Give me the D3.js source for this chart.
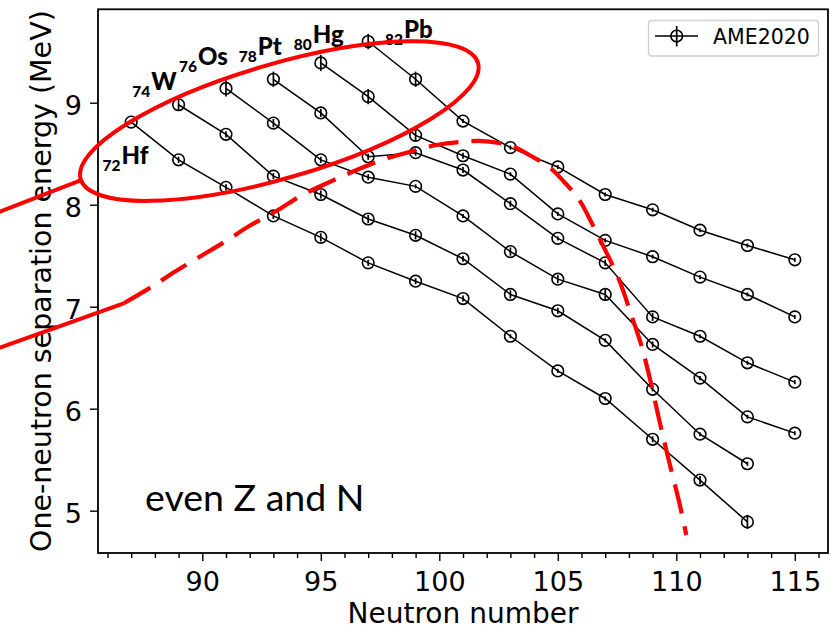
<!DOCTYPE html>
<html>
<head>
<meta charset="utf-8">
<script src="https://cdn.jsdelivr.net/npm/d3@7"></script>
<style>
body { margin: 0; background: #fff; }
svg { display: block; }
</style>
</head>
<body>
<svg id="chart"></svg>
<script>
// neutron numbers on the x axis
var neutrons = [87, 89, 91, 93, 95, 97, 99, 101, 103, 105, 107, 109, 111, 113, 115];

var elements = ["Hf", "W", "Os", "Pt", "Hg", "Pb"];
var protons = [72, 74, 76, 78, 80, 82];
var firstN = [87, 89, 91, 93, 95, 97];

// one-neutron separation energy (MeV), AME2020
var snHf = [8.81, 8.44, 8.17, 7.89, 7.68, 7.43, 7.25, 7.08, 6.71, 6.37, 6.10, 5.70, 5.30, 4.89];
var snW  = [8.98, 8.69, 8.28, 8.10, 7.86, 7.70, 7.47, 7.12, 6.96, 6.67, 6.19, 5.75, 5.46];
var snOs = [9.14, 8.80, 8.44, 8.27, 8.18, 7.89, 7.54, 7.27, 7.12, 6.63, 6.30, 5.92, 5.76];
var snPt = [9.23, 8.90, 8.47, 8.51, 8.34, 8.01, 7.67, 7.43, 6.90, 6.71, 6.45, 6.26];
var snHg = [9.39, 9.06, 8.68, 8.48, 8.30, 7.91, 7.65, 7.49, 7.29, 7.12, 6.90];
var snPb = [9.60, 9.23, 8.82, 8.56, 8.37, 8.10, 7.95, 7.75, 7.60, 7.46];

// uncertainties (MeV)
var errHf = [0.02, 0.03, 0.03, 0.03, 0.04, 0.03, 0.03, 0.03, 0.02, 0.02, 0.02, 0.03, 0.04, 0.07];
var errW  = [0.05, 0.03, 0.03, 0.04, 0.04, 0.04, 0.03, 0.04, 0.03, 0.02, 0.02, 0.02, 0.02];
var errOs = [0.08, 0.04, 0.03, 0.03, 0.02, 0.02, 0.04, 0.04, 0.06, 0.03, 0.02, 0.02, 0.02];
var errPt = [0.075, 0.04, 0.03, 0.03, 0.03, 0.03, 0.02, 0.03, 0.04, 0.02, 0.02, 0.02];
var errHg = [0.08, 0.075, 0.055, 0.03, 0.02, 0.02, 0.02, 0.02, 0.02, 0.02, 0.02];
var errPb = [0.075, 0.075, 0.02, 0.02, 0.02, 0.02, 0.02, 0.02, 0.02, 0.02];

var xTicks = [90, 95, 100, 105, 110, 115];
var yTicks = [5, 6, 7, 8, 9];

// red hand-drawn guide curve (N, MeV)
var guideN = [86.71, 87.85, 88.82, 89.87, 90.93, 91.98, 93.12, 94.22, 95.36, 96.41, 97.59, 98.73, 99.87, 100.84,
  101.69, 102.53, 103.16, 103.8, 104.64, 105.27, 105.91, 106.41, 106.96, 107.59, 108.1, 108.52, 108.95, 109.28, 109.7, 110.13, 110.42];
var guideE = [7.036, 7.193, 7.34, 7.487, 7.634, 7.791, 7.938, 8.095, 8.222, 8.33, 8.438, 8.517, 8.585, 8.615,
  8.625, 8.605, 8.566, 8.487, 8.37, 8.223, 8.046, 7.83, 7.575, 7.262, 6.919, 6.625, 6.232, 5.889, 5.477, 5.075, 4.762];

var W = 833, H = 629;
var box = {left: 98, right: 828, top: 9.3, bottom: 553};
var red = "#ff0000";

var svg = d3.select("#chart").attr("width", W).attr("height", H);
svg.append("rect").attr("width", W).attr("height", H).attr("fill", "#fff");

var x = d3.scaleLinear().domain([85.6, 116.4]).range([box.left, box.right]);
var y = d3.scaleLinear().domain([4.585, 9.916]).range([box.bottom, box.top]);

var allSn = [snHf, snW, snOs, snPt, snHg, snPb];
var allErr = [errHf, errW, errOs, errPt, errHg, errPb];
var series = elements.map(function(el, i) {
  return {
    name: el, z: protons[i],
    points: allSn[i].map(function(v, j) {
      return {n: firstN[i] + 2 * j, sn: v, err: allErr[i][j]};
    })
  };
});

//Axes
var tickFont = "'DejaVu Sans', sans-serif";
var minor = d3.range(86, 117).filter(function(d) { return d % 5 != 0; });
svg.append("g").attr("transform", "translate(0," + box.bottom + ")")
  .call(d3.axisBottom(x).tickValues(minor).tickSize(5).tickFormat(""))
  .call(function(g) { g.select(".domain").remove(); });
var xAxisG = svg.append("g").attr("transform", "translate(0," + box.bottom + ")")
  .call(d3.axisBottom(x).tickValues(xTicks).tickSize(8).tickPadding(11).tickFormat(d3.format("d")));
xAxisG.select(".domain").remove();
var yAxisG = svg.append("g").attr("transform", "translate(" + box.left + ",0)")
  .call(d3.axisLeft(y).tickValues(yTicks).tickSize(8).tickPadding(8).tickFormat(d3.format("d")));
yAxisG.select(".domain").remove();
yAxisG.selectAll("text").attr("dy", "0.43em");
svg.selectAll(".tick line").attr("stroke", "#000").attr("stroke-width", 1.4);
svg.selectAll(".tick text").attr("font-family", tickFont).attr("font-size", 27).attr("fill", "#000");

svg.append("rect")
  .attr("x", box.left).attr("y", box.top)
  .attr("width", box.right - box.left).attr("height", box.bottom - box.top)
  .attr("fill", "none").attr("stroke", "#000").attr("stroke-width", 1.8);

svg.append("text")
  .attr("x", (box.left + box.right) / 2).attr("y", 623)
  .attr("text-anchor", "middle")
  .attr("font-family", tickFont).attr("font-size", 28)
  .text("Neutron number");
svg.append("text")
  .attr("transform", "translate(51," + (box.top + box.bottom) / 2 + ") rotate(-90)")
  .attr("text-anchor", "middle")
  .attr("font-family", tickFont).attr("font-size", 28.5)
  .text("One-neutron separation energy (MeV)");

//Data lines, error bars and open circles
var line = d3.line().x(function(d) { return x(d.n); }).y(function(d) { return y(d.sn); });
var dataG = svg.append("g");
series.forEach(function(s) {
  var g = dataG.append("g").attr("id", s.name + "-g");
  g.append("path").attr("d", line(s.points))
    .attr("fill", "none").attr("stroke", "#000").attr("stroke-width", 1.5);
  g.selectAll(".err").data(s.points).enter().append("line")
    .attr("x1", function(d) { return x(d.n); }).attr("x2", function(d) { return x(d.n); })
    .attr("y1", function(d) { return y(d.sn - d.err); }).attr("y2", function(d) { return y(d.sn + d.err); })
    .attr("stroke", "#000").attr("stroke-width", 1.7);
  g.selectAll("circle").data(s.points).enter().append("circle")
    .attr("cx", function(d) { return x(d.n); }).attr("cy", function(d) { return y(d.sn); })
    .attr("r", 5.8).attr("fill", "none").attr("stroke", "#000").attr("stroke-width", 1.6);
});

// element labels, offset in px from the first point of each chain
var labelOffsets = [[-28.7, 49.3], [-46.3, -8], [-47, -16], [-34.7, -17], [-27, -12.7], [16.7, 3.3]];
var labelFont = "Lato, 'Open Sans', sans-serif";
series.forEach(function(s, i) {
  var p = s.points[0];
  var t = svg.append("text")
    .attr("x", x(p.n) + labelOffsets[i][0]).attr("y", y(p.sn) + labelOffsets[i][1])
    .attr("font-family", labelFont).attr("font-weight", 900);
  t.append("tspan").attr("font-size", 15.5).text(s.z);
  t.append("tspan").attr("font-size", 24).attr("dy", -7).attr("dx", 1).text(s.name);
});

svg.append("text")
  .attr("x", 145).attr("y", 511)
  .attr("font-family", labelFont).attr("font-size", 37.5)
  .text("even Z and N");

//Legend
var leg = svg.append("g");
leg.append("rect").attr("x", 648.5).attr("y", 20.5).attr("width", 170).attr("height", 35.5)
  .attr("rx", 3).attr("fill", "#fff").attr("fill-opacity", 0.8)
  .attr("stroke", "#d0d0d0").attr("stroke-width", 1.3);
leg.append("line").attr("x1", 655).attr("x2", 698).attr("y1", 36).attr("y2", 36)
  .attr("stroke", "#000").attr("stroke-width", 1.7);
leg.append("line").attr("x1", 676.7).attr("x2", 676.7).attr("y1", 26).attr("y2", 46.5)
  .attr("stroke", "#000").attr("stroke-width", 1.7);
leg.append("circle").attr("cx", 676.7).attr("cy", 36).attr("r", 5.8)
  .attr("fill", "none").attr("stroke", "#000").attr("stroke-width", 1.6);
leg.append("text").attr("x", 713).attr("y", 44.3)
  .attr("font-family", tickFont).attr("font-size", 20.5).text("AME2020");

//Red annotations
var guide = guideN.map(function(n, i) { return {n: n, sn: guideE[i]}; });
var guideLine = d3.line().curve(d3.curveCatmullRom)
  .x(function(d) { return x(d.n); }).y(function(d) { return y(d.sn); });
svg.append("path").attr("d", guideLine(guide))
  .attr("fill", "none").attr("stroke", red).attr("stroke-width", 4.2)
  .attr("stroke-dasharray", "30,13");
// solid lead-in to the guide, and the pointer to the ellipse
svg.append("path").attr("d", line([{n: 81.43, sn: 6.595}, guide[0]]))
  .attr("fill", "none").attr("stroke", red).attr("stroke-width", 4);
svg.append("path").attr("d", line([{n: 81.43, sn: 7.928}, {n: 84.89, sn: 8.242}]))
  .attr("fill", "none").attr("stroke", red).attr("stroke-width", 4);
svg.append("ellipse")
  .attr("transform", "translate(" + x(93.25) + "," + y(8.82) + ") rotate(-16.3)")
  .attr("rx", 207).attr("ry", 57)
  .attr("fill", "none").attr("stroke", red).attr("stroke-width", 4);
</script>
</body>
</html>
